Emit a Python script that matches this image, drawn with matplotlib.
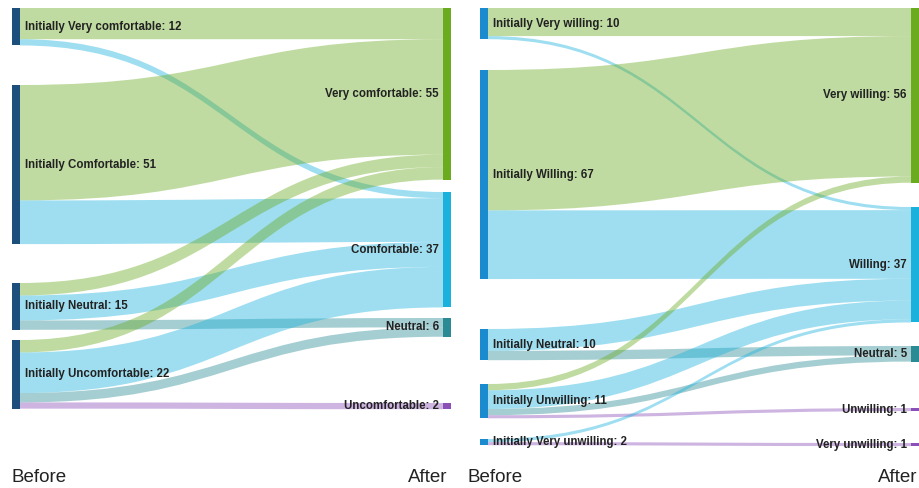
import matplotlib
matplotlib.use("Agg")
import matplotlib.pyplot as plt
from matplotlib.path import Path
from matplotlib.patches import PathPatch, Rectangle

# ---- data ----
comfort_levels = ["Very comfortable", "Comfortable", "Neutral", "Uncomfortable"]
# (before index, after index, count)
comfort_links = [
    (0, 0, 10), (0, 1, 2),
    (1, 0, 37), (1, 1, 14),
    (2, 0, 4), (2, 1, 8), (2, 2, 3),
    (3, 0, 4), (3, 1, 13), (3, 2, 3), (3, 3, 2),
]

willing_levels = ["Very willing", "Willing", "Neutral", "Unwilling", "Very unwilling"]
willing_links = [
    (0, 0, 9), (0, 1, 1),
    (1, 0, 45), (1, 1, 22),
    (2, 1, 7), (2, 2, 3),
    (3, 0, 2), (3, 1, 6), (3, 2, 2), (3, 3, 1),
    (4, 1, 1), (4, 4, 1),
]

# ---- layout (pixels, figure is 920x488) ----
SCALE = 3.12  # px per respondent
NODE_W = 8
FONT = "Liberation Sans"
target_colors = ["#6aab1f", "#1ab2dd", "#2a8b94", "#8b4fb8", "#8b4fb8"]

panels = [
    dict(levels=comfort_levels, links=comfort_links, x_src=12, x_tgt=443,
         src_top=[8, 85, 283, 340], tgt_top=[8, 192, 318, 403],
         src_color="#1c4f7c", before_x=12, after_x=447),
    dict(levels=willing_levels, links=willing_links, x_src=480, x_tgt=911,
         src_top=[8, 70, 329, 384, 439], tgt_top=[8, 207, 346, 408, 443],
         src_color="#1b8bd0", before_x=468, after_x=917),
]

fig = plt.figure(figsize=(9.2, 4.88), dpi=100)
ax = fig.add_axes([0, 0, 1, 1])
ax.set_xlim(0, 920)
ax.set_ylim(488, 0)
ax.axis("off")


def band(x0, y0a, y0b, x1, y1a, y1b):
    # ribbon with bezier edges, control points halfway (like plotly curvature 0.5)
    xm = (x0 + x1) / 2
    verts = [(x0, y0a), (xm, y0a), (xm, y1a), (x1, y1a),
             (x1, y1b), (xm, y1b), (xm, y0b), (x0, y0b), (x0, y0a)]
    codes = [Path.MOVETO, Path.CURVE4, Path.CURVE4, Path.CURVE4,
             Path.LINETO, Path.CURVE4, Path.CURVE4, Path.CURVE4, Path.CLOSEPOLY]
    return Path(verts, codes)


for p in panels:
    n = len(p["levels"])
    links = p["links"]
    src_tot = [sum(v for s, t, v in links if s == i) for i in range(n)]
    tgt_tot = [sum(v for s, t, v in links if t == i) for i in range(n)]

    # stack links: at source by target order, at target by source order
    src_off = list(p["src_top"])
    src_pos = {}
    for s, t, v in sorted(links, key=lambda l: (l[0], l[1])):
        src_pos[(s, t)] = src_off[s]
        src_off[s] += v * SCALE
    tgt_off = list(p["tgt_top"])
    tgt_pos = {}
    for s, t, v in sorted(links, key=lambda l: (l[1], l[0])):
        tgt_pos[(s, t)] = tgt_off[t]
        tgt_off[t] += v * SCALE

    x0 = p["x_src"] + NODE_W
    x1 = p["x_tgt"]
    for s, t, v in links:
        ya = src_pos[(s, t)]
        yb = tgt_pos[(s, t)]
        h = v * SCALE
        ax.add_patch(PathPatch(band(x0, ya, ya + h, x1, yb, yb + h),
                               facecolor=target_colors[t], edgecolor="none",
                               alpha=0.42, zorder=1))

    for i, name in enumerate(p["levels"]):
        if src_tot[i] > 0:
            h = src_tot[i] * SCALE
            ax.add_patch(Rectangle((p["x_src"], p["src_top"][i]), NODE_W, h,
                                   facecolor=p["src_color"], edgecolor="none", zorder=2))
            ax.text(p["x_src"] + NODE_W + 5, p["src_top"][i] + h / 2,
                    f"Initially {name}: {src_tot[i]}", ha="left", va="center",
                    fontsize=8.3, fontweight="bold", color="#222222",
                    family=FONT, zorder=3)
        if tgt_tot[i] > 0:
            h = tgt_tot[i] * SCALE
            ax.add_patch(Rectangle((p["x_tgt"], p["tgt_top"][i]), NODE_W, h,
                                   facecolor=target_colors[i], edgecolor="none", zorder=2))
            ax.text(p["x_tgt"] - 4, p["tgt_top"][i] + h / 2,
                    f"{name}: {tgt_tot[i]}", ha="right", va="center",
                    fontsize=8.3, fontweight="bold", color="#222222",
                    family=FONT, zorder=3)

    ax.text(p["before_x"], 478, "Before", ha="left", va="center",
            fontsize=13.5, color="#222222", family=FONT)
    ax.text(p["after_x"], 478, "After", ha="right", va="center",
            fontsize=13.5, color="#222222", family=FONT)

fig.savefig("out.png", dpi=100)
